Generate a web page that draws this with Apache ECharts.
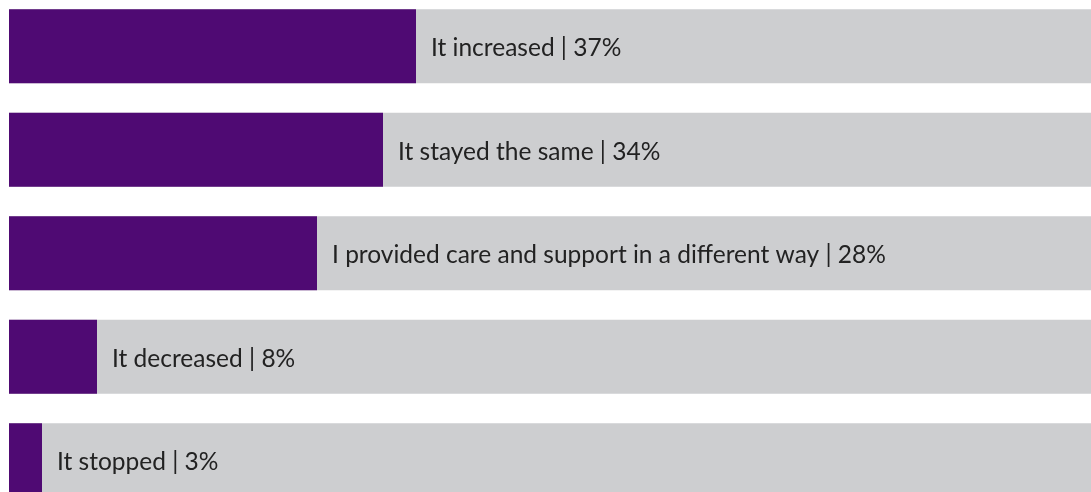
<!DOCTYPE html>
<html>
<head>
<meta charset="utf-8">
<script src="https://cdn.jsdelivr.net/npm/echarts@6/dist/echarts.min.js"></script>
<style>
html,body{margin:0;padding:0;background:#fff;}
#chart{width:1091px;height:492px;}
</style>
</head>
<body>
<div id="chart"></div>
<script>
const categories = ["It increased", "It stayed the same", "I provided care and support in a different way", "It decreased", "It stopped"];
const values = [37, 34, 28, 8, 3];
const totals = [100, 100, 100, 100, 100];

const chart = echarts.init(document.getElementById('chart'), null, {renderer: 'canvas'});
chart.setOption({
  animation: false,
  backgroundColor: '#ffffff',
  grid: {left: 9, width: 1100, top: -5.5, height: 517.5, outerBoundsMode: 'none', containLabel: false},
  xAxis: {type: 'value', min: 0, max: 100, show: false},
  yAxis: {type: 'category', data: categories, inverse: true, show: false},
  series: [
    {
      type: 'bar', data: totals, barWidth: 74, barGap: '-100%',
      itemStyle: {color: '#cdced0'}, silent: true, z: 1
    },
    {
      type: 'bar', data: values, barWidth: 74,
      itemStyle: {color: '#4f0a73'}, z: 2,
      label: {
        show: true, position: 'right', distance: 15, offset: [0, 2],
        color: '#222222', fontFamily: 'Lato', fontSize: 24.5,
        formatter: p => categories[p.dataIndex] + ' | ' + p.value + '%'
      }
    }
  ]
});
</script>
</body>
</html>
